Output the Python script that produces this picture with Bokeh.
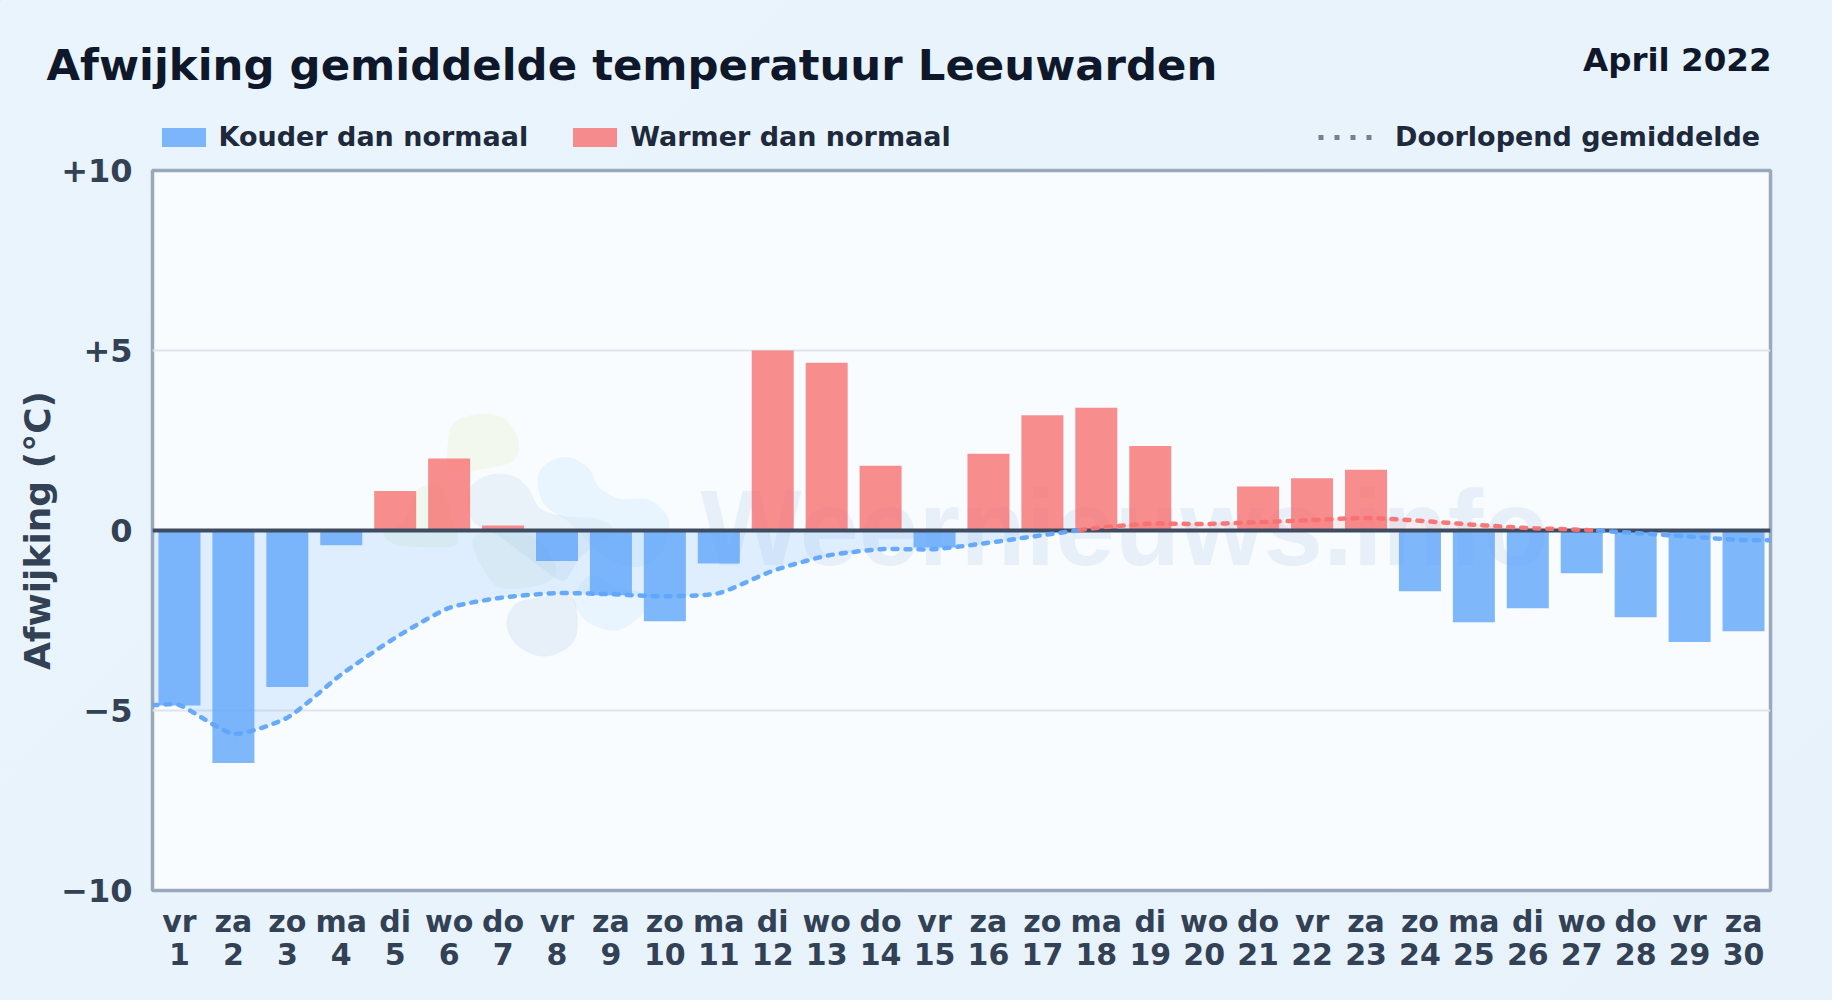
from bokeh.plotting import figure
from bokeh.layouts import column
from bokeh.embed import file_html
from bokeh.resources import INLINE
from bokeh.models import Legend, LegendItem, Range1d, FixedTicker, ColumnDataSource, GlobalInlineStyleSheet
from bokeh.core.properties import value
import numpy as np

title_text = "Afwijking gemiddelde temperatuur Leeuwarden"
month_text = "April 2022"
y_label = "Afwijking (°C)"
watermark = "Weernieuws.info"
legend_cold = "Kouder dan normaal"
legend_warm = "Warmer dan normaal"
legend_mean = "Doorlopend gemiddelde"
weekdays = ["vr","za","zo","ma","di","wo","do","vr","za","zo","ma","di","wo","do","vr",
            "za","zo","ma","di","wo","do","vr","za","zo","ma","di","wo","do","vr","za"]
days = list(range(1, 31))
deviation = [-4.86,-6.46,-4.35,-0.41,1.10,2.00,0.14,-0.85,-1.80,-2.52,-0.92,5.00,4.66,1.80,-0.47,
             2.13,3.20,3.41,2.35,0.03,1.22,1.45,1.69,-1.69,-2.55,-2.16,-1.19,-2.41,-3.10,-2.80]
running_mean = [-4.85,-5.65,-5.20,-4.00,-2.98,-2.15,-1.86,-1.74,-1.77,-1.83,-1.74,-1.12,-0.70,-0.52,-0.52,
                -0.34,-0.13,0.07,0.19,0.18,0.23,0.29,0.35,0.27,0.16,0.07,0.02,-0.07,-0.17,-0.27]
y_ticks = {10:"+10", 5:"+5", 0:"0", -5:"\u22125", -10:"\u221210"}

W, H = 1832, 1000
HEAD = 153
L, R, T, B = 152, 1770, 170, 890
BG = "#f8fcff"
BLUE, RED = "#60a5fa", "#f87171"

# ---------- header strip: title, month and legends ----------
h = figure(width=W, height=HEAD, output_backend="svg", toolbar_location=None,
           x_range=Range1d(0, W), y_range=Range1d(HEAD, 0), frame_align=False,
           min_border_left=0, min_border_right=0, min_border_top=0, min_border_bottom=0)
h.stylesheets = [GlobalInlineStyleSheet(css="html,body{margin:0;padding:0;overflow:hidden;background:linear-gradient(135deg,#e9f4fc 0%,#e8f2fb 100%);}")]
h.axis.visible = False
h.grid.visible = False
h.outline_line_alpha = 0
h.background_fill_alpha = 0
h.border_fill_alpha = 0
h.text(x=[46], y=[64], text=[title_text], text_font=value("DejaVu Sans"), text_font_style="bold",
       text_font_size="43.4px", text_color="#0f172a", text_baseline="alphabetic")
h.text(x=[R+1], y=[59], text=[month_text], text_font=value("DejaVu Sans"), text_font_style="bold",
       text_font_size="32.5px", text_color="#0f172a", text_align="right", text_baseline="alphabetic")
# off-screen stand-ins so that the legend keys can be styled here
kc = h.vbar(x=[-500], top=[-500], bottom=[-510], width=1, fill_color=BLUE, fill_alpha=0.8, line_alpha=0)
kw = h.vbar(x=[-500], top=[-500], bottom=[-510], width=1, fill_color=RED, fill_alpha=0.8, line_alpha=0)
km = h.line(x=[-500,-490], y=[-500,-500], line_color="#64748b", line_width=5, line_dash="5 11", line_alpha=0.9)
legend_style = dict(orientation="horizontal", label_text_font="DejaVu Sans", label_text_font_style="bold",
                    label_text_font_size="27px", label_text_color="#1e293b", background_fill_alpha=0,
                    border_line_alpha=0, margin=0, padding=0, glyph_height=24)
h.add_layout(Legend(items=[LegendItem(label=legend_cold, renderers=[kc]), LegendItem(label=legend_warm, renderers=[kw])],
                    location=(155.5, 1), glyph_width=55, spacing=39, label_standoff=8, **legend_style), "center")
h.add_layout(Legend(items=[LegendItem(label=legend_mean, renderers=[km])],
                    location=(1318, 1), glyph_width=54, label_standoff=23, **legend_style), "center")

# ---------- main chart ----------
p = figure(width=W, height=H-HEAD, output_backend="svg", toolbar_location=None, frame_align=False,
           x_range=Range1d(0.5, 30.5), y_range=Range1d(-10, 10),
           min_border_left=L, min_border_right=W-R, min_border_top=T-HEAD, min_border_bottom=H-B)
p.border_fill_alpha = 0
p.background_fill_color = BG
p.outline_line_color = "#9aa8bc"
p.outline_line_width = 3.5

def X(px): return 0.5 + (np.asarray(px, float) - L) / (R - L) * 30
def Y(py): return (530 - np.asarray(py, float)) / 36

def smooth_closed(pts, n=10):
    pts = np.array(pts, float)
    out = []
    m = len(pts)
    for i in range(m):
        p0, p1, p2, p3 = pts[i-1], pts[i], pts[(i+1) % m], pts[(i+2) % m]
        for t in np.linspace(0, 1, n, endpoint=False):
            out.append(0.5*((2*p1)+(p2-p0)*t+(2*p0-5*p1+4*p2-p3)*t*t+(3*p1-p0-3*p2+p3)*t**3))
    return np.array(out)

def blob(zpts, color, alpha):
    s = smooth_closed(zpts)
    p.patch(X(340 + s[:,0]/3), Y(380 + s[:,1]/3), fill_color=color, fill_alpha=alpha, line_alpha=0)

# faint logo and name behind the bars
blob([(325,165),(350,120),(425,100),(495,118),(533,180),(520,240),(430,265),(330,270)], "#e3eec8", 0.3)
blob([(230,330),(300,315),(330,400),(350,490),(260,500),(160,490),(130,455),(190,420)], "#dcecd0", 0.3)
blob([(400,470),(560,460),(640,540),(630,600),(520,625),(450,600)], "#cfe4c8", 0.22)
blob([(385,330),(440,285),(515,285),(565,325),(600,385),(680,408),(770,415),(815,450),(720,530),(670,600),(600,560),(480,470),(395,420)], "#c9d9ea", 0.3)
blob([(592,290),(625,245),(685,230),(745,265),(775,320),(840,355),(925,358),(985,420),(960,520),(880,560),(780,520),(690,430),(610,370)], "#cfe9fb", 0.35)
blob([(498,730),(525,670),(600,650),(690,640),(712,730),(690,795),(610,828),(530,795)], "#c9d9ea", 0.35)
blob([(700,650),(750,585),(830,620),(905,640),(905,700),(830,750),(750,730),(712,690)], "#cfe9fb", 0.35)
p.text(x=[X(700)], y=[Y(527)], text=[watermark], text_font=value("Liberation Sans"), text_font_style="bold",
       text_font_size="107px", text_color="#3b6fb5", text_alpha=0.085, text_baseline="alphabetic")

# running mean curve through the read values (bezier smoothing as in the reference)
def chart_curve(xs, ys, tension=0.2, n=12):
    sx, sy = np.asarray(xs)*(R-L)/30.0, np.asarray(ys)*36.0
    cn = len(sx)
    c1x, c1y, c2x, c2y = np.zeros(cn), np.zeros(cn), np.zeros(cn), np.zeros(cn)
    for i in range(cn):
        a, b = max(i-1,0), min(i+1,cn-1)
        d01 = np.hypot(sx[i]-sx[a], sy[i]-sy[a]); d12 = np.hypot(sx[b]-sx[i], sy[b]-sy[i])
        tot = d01+d12 or 1
        c1x[i] = sx[i]-tension*d01/tot*(sx[b]-sx[a]); c1y[i] = sy[i]-tension*d01/tot*(sy[b]-sy[a])
        c2x[i] = sx[i]+tension*d12/tot*(sx[b]-sx[a]); c2y[i] = sy[i]+tension*d12/tot*(sy[b]-sy[a])
    ox, oy = [], []
    for i in range(cn-1):
        for t in np.linspace(0,1,n,endpoint=False):
            u = 1-t
            ox.append(u**3*sx[i]+3*u*u*t*c2x[i]+3*u*t*t*c1x[i+1]+t**3*sx[i+1])
            oy.append(u**3*sy[i]+3*u*u*t*c2y[i]+3*u*t*t*c1y[i+1]+t**3*sy[i+1])
    ox.append(sx[-1]); oy.append(sy[-1])
    return np.array(ox)*30.0/(R-L), np.array(oy)/36.0

cx, cy = chart_curve([0.5]+days+[30.5], [running_mean[0]]+running_mean+[running_mean[-1]])

p.varea(x=cx, y1=np.minimum(cy,0), y2=0*cy, fill_color=BLUE, fill_alpha=0.16)
p.varea(x=cx, y1=np.maximum(cy,0), y2=0*cy, fill_color=RED, fill_alpha=0.12)

neg = ColumnDataSource(dict(x=[d for d,v in zip(days,deviation) if v<0], top=[v for v in deviation if v<0]))
pos = ColumnDataSource(dict(x=[d for d,v in zip(days,deviation) if v>=0], top=[v for v in deviation if v>=0]))
bar_w = 42/53.93
p.vbar(x="x", top="top", bottom=0, width=bar_w, source=neg, fill_color=BLUE, fill_alpha=0.8, line_alpha=0)
p.vbar(x="x", top="top", bottom=0, width=bar_w, source=pos, fill_color=RED, fill_alpha=0.8, line_alpha=0)

p.line(x=[0.5,30.5], y=[0,0], line_color="#3e4c61", line_width=4)

def runs(mask):
    idx = np.flatnonzero(mask)
    return np.split(idx, np.flatnonzero(np.diff(idx)>1)+1) if len(idx) else []
for mask, col in ((cy<0, BLUE), (cy>=0, RED)):
    for r in runs(mask):
        r2 = np.r_[r, r[-1]+1] if r[-1]+1 < len(cx) else r
        p.line(cx[r2], cy[r2], line_color=col, line_width=4.5, line_dash="5 8", line_cap="round", line_alpha=0.95)

# axes
p.xgrid.visible = False
p.ygrid.ticker = FixedTicker(ticks=[-5, 5])
p.ygrid.grid_line_color = "#dfe5ec"
p.ygrid.grid_line_width = 2

ya = p.yaxis[0]
ya.ticker = FixedTicker(ticks=list(y_ticks))
ya.major_label_overrides = y_ticks
ya.axis_line_alpha = 0; ya.major_tick_line_alpha = 0; ya.minor_tick_line_alpha = 0
ya.major_tick_in = 0; ya.major_tick_out = 0; ya.minor_tick_out = 0
ya.major_label_standoff = 20
ya.major_label_text_font = "DejaVu Sans"; ya.major_label_text_font_style = "bold"
ya.major_label_text_font_size = "32px"; ya.major_label_text_color = "#334155"
ya.axis_label = y_label
ya.axis_label_text_font = "DejaVu Sans"; ya.axis_label_text_font_style = "bold"
ya.axis_label_text_font_size = "36px"; ya.axis_label_text_color = "#334155"
ya.axis_label_standoff = 0

xa = p.xaxis[0]
xa.ticker = FixedTicker(ticks=days)
xa.major_label_overrides = {d: f"{w}\n{d}" for d, w in zip(days, weekdays)}
xa.axis_line_alpha = 0; xa.major_tick_line_alpha = 0; xa.minor_tick_line_alpha = 0
xa.major_tick_in = 0; xa.major_tick_out = 0; xa.minor_tick_out = 0
xa.major_label_standoff = 13
xa.major_label_text_font = "DejaVu Sans"; xa.major_label_text_font_style = "bold"
xa.major_label_text_font_size = "30px"; xa.major_label_text_color = "#334155"
xa.major_label_text_line_height = 0.95

page = column(h, p, spacing=0)
open("out.html", "w").write(file_html(page, INLINE))
